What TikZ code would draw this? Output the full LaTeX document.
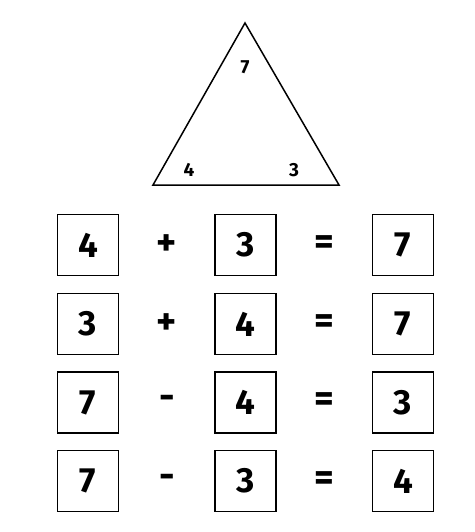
\documentclass[tikz,border=0pt]{standalone}
\usepackage{fontspec}
\setmainfont{Fira Sans}
\begin{document}
\begin{tikzpicture}[x=1pt, y=-1pt,
    numbox/.style={draw, line width=1.5pt, minimum width=61pt, minimum height=61pt, inner sep=0pt, font=\fontsize{35}{35}\selectfont\bfseries},
    optext/.style={font=\fontsize{38}{38}\selectfont\bfseries},
    trinum/.style={font=\fontsize{19}{19}\selectfont\bfseries}]
  \useasboundingbox (0,0) rectangle (474,532);
  % triangle
  \coordinate (top) at (245,23);
  \coordinate (left) at (153,185);
  \coordinate (right) at (339,185);
  \draw[line width=1.5pt, line join=miter] (top) -- (right) -- (left) -- cycle;
  \node[trinum] (tsum) at (245,67) {7};
  \node[trinum] (tleft) at (189,170) {4};
  \node[trinum] (tright) at (294,170) {3};
  % number sentences
  \foreach \y/\a/\op/\b/\c [count=\i] in {245/4/+/3/7, 324/3/+/4/7, 402.5/7/-/4/3, 481/7/-/3/4}{
    \node[numbox] (a\i) at (88,\y) {\a};
    \node[optext] (op\i) at (167,\y) {\op};
    \node[numbox] (b\i) at (245.5,\y) {\b};
    \node[optext] (eq\i) at (324,\y) {=};
    \node[numbox] (c\i) at (403,\y) {\c};
  }
\end{tikzpicture}
\end{document}
